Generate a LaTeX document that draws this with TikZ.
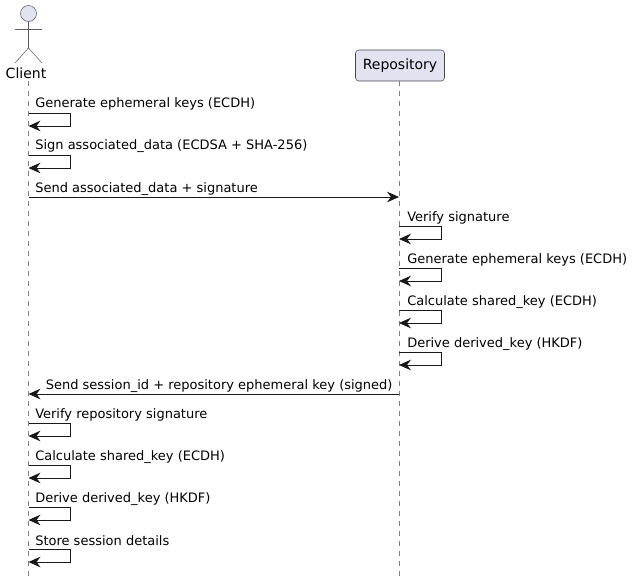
\documentclass[tikz,border=0pt]{standalone}
\usepackage{fontspec}
\setmainfont{DejaVu Sans}
\usepackage{xcolor}
\usetikzlibrary{arrows.meta}
\definecolor{partfill}{RGB}{226,226,240}
\definecolor{partline}{RGB}{24,24,24}

\begin{document}
\begin{tikzpicture}[
    x=0.75pt, y=-0.75pt,
    part/.style={draw=partline!80, fill=partfill, rounded corners=2.5pt, line width=0.4pt,
                 minimum width=66.75pt, minimum height=23.25pt, inner sep=0pt, font=\fontsize{10.5}{12}\selectfont},
    actorline/.style={draw=partline!70, line width=0.4pt},
    life/.style={draw=partline!55, line width=0.4pt, dash pattern=on 3.75pt off 3.75pt},
    arr/.style={-{Stealth[length=9pt, width=8pt, inset=3pt]}, draw=partline, line width=0.75pt},
    lbl/.style={anchor=base west, inner sep=0pt, font=\fontsize{9.75}{12}\selectfont}
  ]
  \useasboundingbox (0,0) rectangle (633,586);

  % Actor
  \node[circle, actorline, fill=partfill, minimum size=12pt, inner sep=0pt] (head) at (28.5,13.5) {};
  \coordinate (hip) at (28.5,48);
  \coordinate (armL) at (15,29);
  \coordinate (armR) at (42,29);
  \coordinate (legL) at (15,63);
  \coordinate (legR) at (42,63);
  \draw[actorline] (head.south) -- (hip);
  \draw[actorline] (armL) -- (armR);
  \draw[actorline] (legL) -- (hip) -- (legR);
  \node[anchor=base, inner sep=0pt, font=\fontsize{10.5}{12}\selectfont] (client) at (26,78) {Client};

  % Participant
  \node[part] (repo) at (400,65.5) {Repository};

  % Lifelines
  \coordinate (clientTop) at (28.5,81);
  \coordinate (clientEnd) at (28.5,577);
  \coordinate (repoTop) at (399,81);
  \coordinate (repoEnd) at (399,577);
  \draw[life] (clientTop) -- (clientEnd);
  \draw[life] (repoTop) -- (repoEnd);

  % Client, first part
  \node[lbl] (m1) at (35,107) {Generate ephemeral keys (ECDH)};
  \coordinate (c1) at (28.5,113);
  \draw[arr] (c1) -- ++(42,0) -- ++(0,13) -- ++(-42,0);
  \node[lbl] (m2) at (35,149) {Sign associated\_data (ECDSA + SHA-256)};
  \coordinate (c2) at (28.5,155);
  \draw[arr] (c2) -- ++(42,0) -- ++(0,13) -- ++(-42,0);

  % Client to Repository
  \node[lbl] (m3) at (35,192) {Send associated\_data + signature};
  \coordinate (c3) at (28.5,197);
  \coordinate (r3) at (399,197);
  \draw[arr] (c3) -- (r3);

  % Repository
  \node[lbl] (m4) at (407,221) {Verify signature};
  \coordinate (r4) at (399,226);
  \draw[arr] (r4) -- ++(42,0) -- ++(0,13) -- ++(-42,0);
  \node[lbl] (m5) at (407,263) {Generate ephemeral keys (ECDH)};
  \coordinate (r5) at (399,268);
  \draw[arr] (r5) -- ++(42,0) -- ++(0,13) -- ++(-42,0);
  \node[lbl] (m6) at (407,305) {Calculate shared\_key (ECDH)};
  \coordinate (r6) at (399,310);
  \draw[arr] (r6) -- ++(42,0) -- ++(0,13) -- ++(-42,0);
  \node[lbl] (m7) at (407,347) {Derive derived\_key (HKDF)};
  \coordinate (r7) at (399,352);
  \draw[arr] (r7) -- ++(42,0) -- ++(0,13) -- ++(-42,0);

  % Repository to Client
  \node[lbl] (m8) at (45.5,389) {Send session\_id + repository ephemeral key (signed)};
  \coordinate (r8) at (399,394);
  \coordinate (c8) at (28.5,394);
  \draw[arr] (r8) -- (c8);

  % Client, second part
  \node[lbl] (m9) at (35,418) {Verify repository signature};
  \coordinate (c9) at (28.5,423);
  \draw[arr] (c9) -- ++(42,0) -- ++(0,13) -- ++(-42,0);
  \node[lbl] (m10) at (35,460) {Calculate shared\_key (ECDH)};
  \coordinate (c10) at (28.5,465);
  \draw[arr] (c10) -- ++(42,0) -- ++(0,13) -- ++(-42,0);
  \node[lbl] (m11) at (35,502) {Derive derived\_key (HKDF)};
  \coordinate (c11) at (28.5,507);
  \draw[arr] (c11) -- ++(42,0) -- ++(0,13) -- ++(-42,0);
  \node[lbl] (m12) at (35,545) {Store session details};
  \coordinate (c12) at (28.5,549);
  \draw[arr] (c12) -- ++(42,0) -- ++(0,13) -- ++(-42,0);
\end{tikzpicture}
\end{document}
